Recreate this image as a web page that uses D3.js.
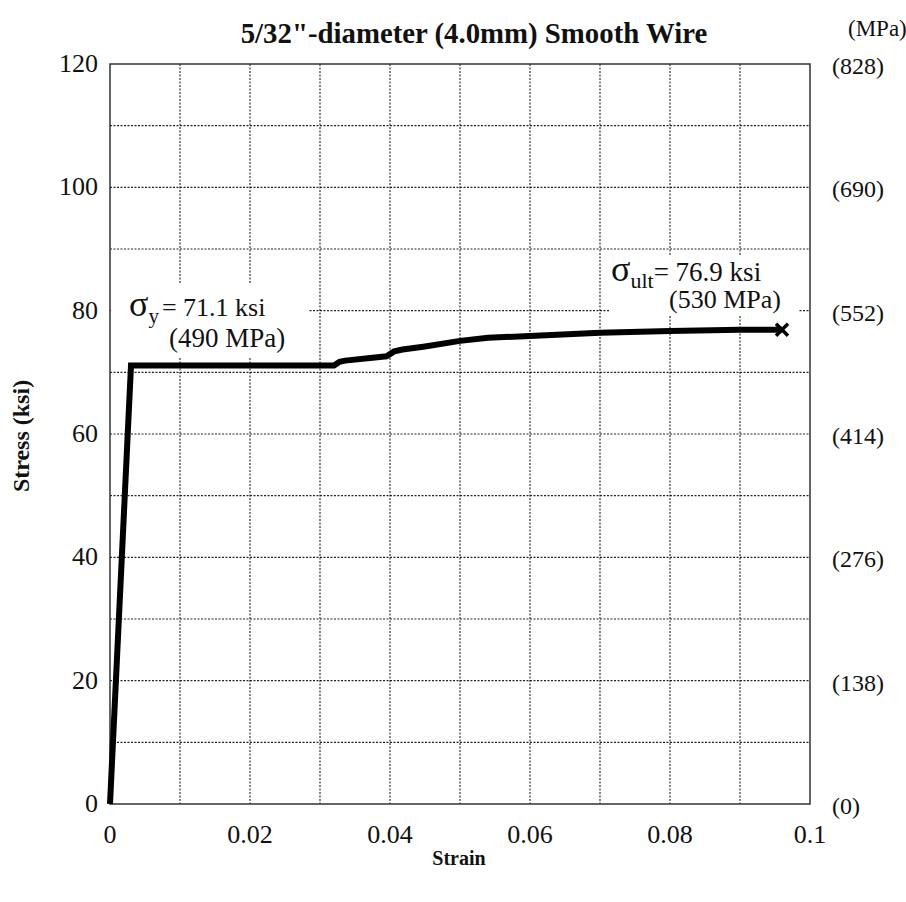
<!DOCTYPE html>
<html>
<head>
<meta charset="utf-8">
<script src="https://cdn.jsdelivr.net/npm/d3@7"></script>
<style>
  html, body { margin: 0; padding: 0; background: #fff; }
  svg { display: block; }
  svg text { font-family: "Liberation Serif", "Times New Roman", serif; fill: #111; }
</style>
</head>
<body>
<svg id="chart" width="906" height="902"></svg>
<script>
// Tensile test of 5/32" smooth wire: strain (in/in) vs stress (ksi)
const strain = [0, 0.003, 0.032, 0.0328, 0.0336, 0.0395, 0.0406, 0.0418, 0.045, 0.050, 0.054, 0.060, 0.070, 0.080, 0.090, 0.096];
const stress = [0, 71.1, 71.1, 71.7, 71.9, 72.6, 73.4, 73.7, 74.2, 75.1, 75.6, 75.9, 76.4, 76.7, 76.9, 76.9];

const xTicks = [0, 0.02, 0.04, 0.06, 0.08, 0.1];
const xTickLabels = ["0", "0.02", "0.04", "0.06", "0.08", "0.1"];
const yTicks = [0, 20, 40, 60, 80, 100, 120];
const mpaLabels = ["(0)", "(138)", "(276)", "(414)", "(552)", "(690)", "(828)"];
const xGrid = [0.01, 0.02, 0.03, 0.04, 0.05, 0.06, 0.07, 0.08, 0.09];
const yGrid = [10, 20, 30, 40, 50, 60, 70, 80, 90, 100, 110];

const yieldStress = 71.1, yieldMPa = 490;
const ultStrain = 0.096, ultStress = 76.9, ultMPa = 530;

const FONT = "Liberation Serif";
const svg = d3.select("#chart");
const m = { left: 110, right: 810, top: 64, bottom: 804 };

const x = d3.scaleLinear().domain([0, 0.1]).range([m.left, m.right]);
const y = d3.scaleLinear().domain([0, 120]).range([m.bottom, m.top]);

// dotted grid
const grid = svg.append("g").attr("stroke", "#222").attr("stroke-width", 1.1)
  .attr("stroke-dasharray", "2,1.5");
grid.selectAll("line.v").data(xGrid).join("line")
  .attr("x1", d => x(d)).attr("x2", d => x(d))
  .attr("y1", m.top).attr("y2", m.bottom);
grid.selectAll("line.h").data(yGrid).join("line")
  .attr("x1", m.left).attr("x2", m.right)
  .attr("y1", d => y(d)).attr("y2", d => y(d));

// annotation backgrounds (cover grid behind the labels)
svg.append("rect").attr("x", m.left + 1).attr("y", 284).attr("width", 197).attr("height", 73).attr("fill", "#fff");
svg.append("rect").attr("x", 609).attr("y", 256).attr("width", 189).attr("height", 59).attr("fill", "#fff");

// plot frame
svg.append("rect").attr("x", m.left).attr("y", m.top)
  .attr("width", m.right - m.left).attr("height", m.bottom - m.top)
  .attr("fill", "none").attr("stroke", "#333").attr("stroke-width", 1.5);

// stress-strain curve
const line = d3.line().x((d, i) => x(strain[i])).y(d => y(d));
svg.append("path").datum(stress).attr("d", line)
  .attr("fill", "none").attr("stroke", "#000").attr("stroke-width", 6)
  .attr("stroke-linejoin", "miter");

// fracture marker
const mx = x(ultStrain), my = y(ultStress), s = 6;
svg.append("path")
  .attr("d", `M${mx - s},${my - s}L${mx + s},${my + s}M${mx - s},${my + s}L${mx + s},${my - s}`)
  .attr("stroke", "#000").attr("stroke-width", 3.5).attr("fill", "none");

// x tick labels
svg.append("g").selectAll("text").data(xTicks).join("text")
  .attr("x", d => x(d)).attr("y", 843)
  .attr("text-anchor", "middle").attr("font-family", FONT).attr("font-size", 26)
  .text((d, i) => xTickLabels[i]);

// left stress labels
svg.append("g").selectAll("text").data(yTicks).join("text")
  .attr("x", 98).attr("y", d => y(d) + 8)
  .attr("text-anchor", "end").attr("font-family", FONT).attr("font-size", 26)
  .text(d => d);

// right MPa labels
svg.append("g").selectAll("text").data(yTicks).join("text")
  .attr("x", 832).attr("y", d => y(d) + 10)
  .attr("text-anchor", "start").attr("font-family", FONT).attr("font-size", 24)
  .text((d, i) => mpaLabels[i]);

svg.append("text").attr("x", 848).attr("y", 36).attr("font-family", FONT)
  .attr("font-size", 23).text("(MPa)");

// title & axis titles
svg.append("text").attr("x", 474).attr("y", 43).attr("text-anchor", "middle")
  .attr("font-family", FONT).attr("font-size", 28.8).attr("font-weight", "bold")
  .text("5/32\"-diameter (4.0mm) Smooth Wire");
svg.append("text").attr("x", 459).attr("y", 865).attr("text-anchor", "middle")
  .attr("font-family", FONT).attr("font-size", 20).attr("font-weight", "bold").text("Strain");
svg.append("text").attr("transform", "translate(29,436) rotate(-90)")
  .attr("text-anchor", "middle").attr("font-family", FONT).attr("font-size", 24).attr("font-weight", "bold")
  .text("Stress (ksi)");

// yield annotation
const ty = svg.append("text").attr("x", 129).attr("y", 316).attr("font-family", FONT).attr("font-size", 26);
ty.append("tspan").attr("font-size", 36).text("σ");
ty.append("tspan").attr("dy", 7).attr("font-size", 21).text("y");
ty.append("tspan").attr("dy", -7).attr("dx", 3).text(`= ${yieldStress} ksi`);
svg.append("text").attr("x", 169).attr("y", 347).attr("font-family", FONT).attr("font-size", 27)
  .text(`(${yieldMPa} MPa)`);

// ultimate annotation
const tu = svg.append("text").attr("x", 611).attr("y", 281).attr("font-family", FONT).attr("font-size", 27);
tu.append("tspan").attr("font-size", 36).text("σ");
tu.append("tspan").attr("dy", 7).attr("font-size", 22).text("ult");
tu.append("tspan").attr("dy", -7).text(`= ${ultStress} ksi`);
svg.append("text").attr("x", 669).attr("y", 308).attr("font-family", FONT).attr("font-size", 26)
  .text(`(${ultMPa} MPa)`);
</script>
</body>
</html>
